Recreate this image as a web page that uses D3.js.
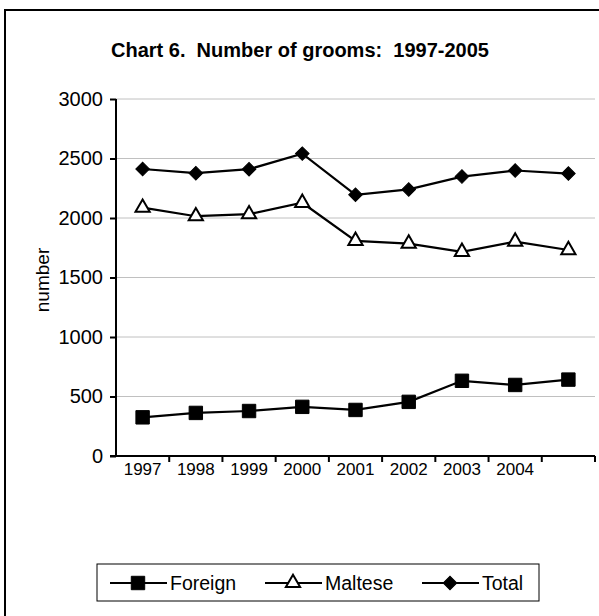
<!DOCTYPE html>
<html>
<head>
<meta charset="utf-8">
<script src="https://cdn.jsdelivr.net/npm/d3@7/dist/d3.min.js"></script>
<style>
  html, body { margin: 0; padding: 0; background: #fff; }
  svg { display: block; font-family: "Liberation Sans", Arial, Helvetica, sans-serif; }
  text { white-space: pre; }
</style>
</head>
<body>
<svg id="chart" width="599" height="616"></svg>
<script>
const categories = ["1997", "1998", "1999", "2000", "2001", "2002", "2003", "2004", "2005"];
const tickLabels = ["1997", "1998", "1999", "2000", "2001", "2002", "2003", "2004", ""];
const foreign = [325, 362, 378, 413, 387, 455, 632, 597, 642];
const maltese = [2087, 2015, 2032, 2128, 1808, 1785, 1716, 1802, 1731];
const total = [2412, 2377, 2410, 2541, 2195, 2240, 2348, 2399, 2373];
const yTicks = [0, 500, 1000, 1500, 2000, 2500, 3000];
const seriesNames = ["Foreign", "Maltese", "Total"];
const titleText = "Chart 6.  Number of grooms:  1997-2005";
const yTitle = "number";

const svg = d3.select("#chart");

// outer frame
svg.append("rect").attr("x", 5).attr("y", 10).attr("width", 620).attr("height", 630)
  .attr("fill", "#fff").attr("stroke", "#000").attr("stroke-width", 2);

const plot = { left: 116, right: 595, top: 99, bottom: 456 };

const x = d3.scaleBand().domain(categories).range([plot.left, plot.right]).padding(0);
const y = d3.scaleLinear().domain([0, 3000]).range([plot.bottom, plot.top]);

// title
svg.append("text").attr("x", 300).attr("y", 57).attr("text-anchor", "middle")
  .attr("xml:space", "preserve")
  .attr("font-size", 20).attr("font-weight", "bold").text(titleText);

// gridlines
svg.append("g").selectAll("line").data(yTicks.filter(d => d > 0)).join("line")
  .attr("x1", plot.left).attr("x2", plot.right)
  .attr("y1", d => y(d)).attr("y2", d => y(d))
  .attr("stroke", "#c0c0c0").attr("stroke-width", 1);

// y axis
const yAxis = svg.append("g").attr("transform", `translate(${plot.left},0)`)
  .call(d3.axisLeft(y).tickValues(yTicks).tickSize(6).tickPadding(7).tickFormat(d3.format("d")));
yAxis.attr("font-size", 20).attr("font-family", null);
yAxis.select(".domain").attr("stroke", "#000").attr("stroke-width", 2).attr("d", `M0,${plot.top}V${plot.bottom}`);
yAxis.selectAll(".tick line").attr("stroke", "#000").attr("stroke-width", 2);
yAxis.selectAll(".tick text").attr("fill", "#000");

// x axis: ticks at category boundaries
const xAxisG = svg.append("g").attr("transform", `translate(0,${plot.bottom})`);
xAxisG.append("line").attr("x1", plot.left - 6).attr("x2", plot.right)
  .attr("stroke", "#000").attr("stroke-width", 2);
const boundaries = categories.map(c => x(c) + x.bandwidth());
xAxisG.selectAll("line.tk").data(boundaries).join("line").attr("class", "tk")
  .attr("x1", d => d).attr("x2", d => d).attr("y1", 0).attr("y2", 6)
  .attr("stroke", "#000").attr("stroke-width", 2);
xAxisG.selectAll("text").data(categories).join("text")
  .attr("x", (c) => x(c) + x.bandwidth() / 2).attr("y", 19)
  .attr("text-anchor", "middle").attr("font-size", 17)
  .text((c, i) => tickLabels[i]);

// y title
svg.append("text").attr("transform", "translate(42,280) rotate(-90)")
  .attr("text-anchor", "middle").attr("font-size", 19).attr("dy", "0.35em").text(yTitle);

const cx = c => x(c) + x.bandwidth() / 2;
const line = d3.line().x((d, i) => cx(categories[i])).y(d => y(d));

const symSquare = d3.symbol().type(d3.symbolSquare).size(180);
const symTri = d3.symbol().type(d3.symbolTriangle).size(88);
const symDiamond = d3.symbol().type(d3.symbolSquare).size(92);

function drawSeries(data, sym, fill, rot) {
  const g = svg.append("g");
  g.append("path").datum(data).attr("d", line).attr("fill", "none")
    .attr("stroke", "#000").attr("stroke-width", 2.2);
  g.selectAll("path.m").data(data).join("path").attr("class", "m")
    .attr("transform", (d, i) => `translate(${cx(categories[i])},${y(d)}) rotate(${rot})`)
    .attr("d", sym).attr("fill", fill).attr("stroke", "#000").attr("stroke-width", fill === "#fff" ? 2 : 1);
}
drawSeries(foreign, symSquare, "#000", 0);
drawSeries(maltese, symTri, "#fff", 0);
drawSeries(total, symDiamond, "#000", 45);

// legend
const lg = svg.append("g");
lg.append("rect").attr("x", 97).attr("y", 564).attr("width", 442).attr("height", 37)
  .attr("fill", "#fff").attr("stroke", "#000").attr("stroke-width", 1);
const legendItems = [
  { name: seriesNames[0], sym: symSquare, fill: "#000", x0: 110, rot: 0 },
  { name: seriesNames[1], sym: symTri, fill: "#fff", x0: 265, rot: 0 },
  { name: seriesNames[2], sym: symDiamond, fill: "#000", x0: 422, rot: 45 }
];
const ly = 583;
legendItems.forEach(it => {
  lg.append("line").attr("x1", it.x0).attr("x2", it.x0 + 57).attr("y1", ly).attr("y2", ly)
    .attr("stroke", "#000").attr("stroke-width", 2);
  lg.append("path").attr("transform", `translate(${it.x0 + 28},${ly}) rotate(${it.rot})`).attr("d", it.sym)
    .attr("fill", it.fill).attr("stroke", "#000").attr("stroke-width", it.fill === "#fff" ? 2 : 1);
  lg.append("text").attr("x", it.x0 + 60).attr("y", ly).attr("dy", "0.35em")
    .attr("font-size", 19.5).text(it.name);
});
</script>
</body>
</html>
